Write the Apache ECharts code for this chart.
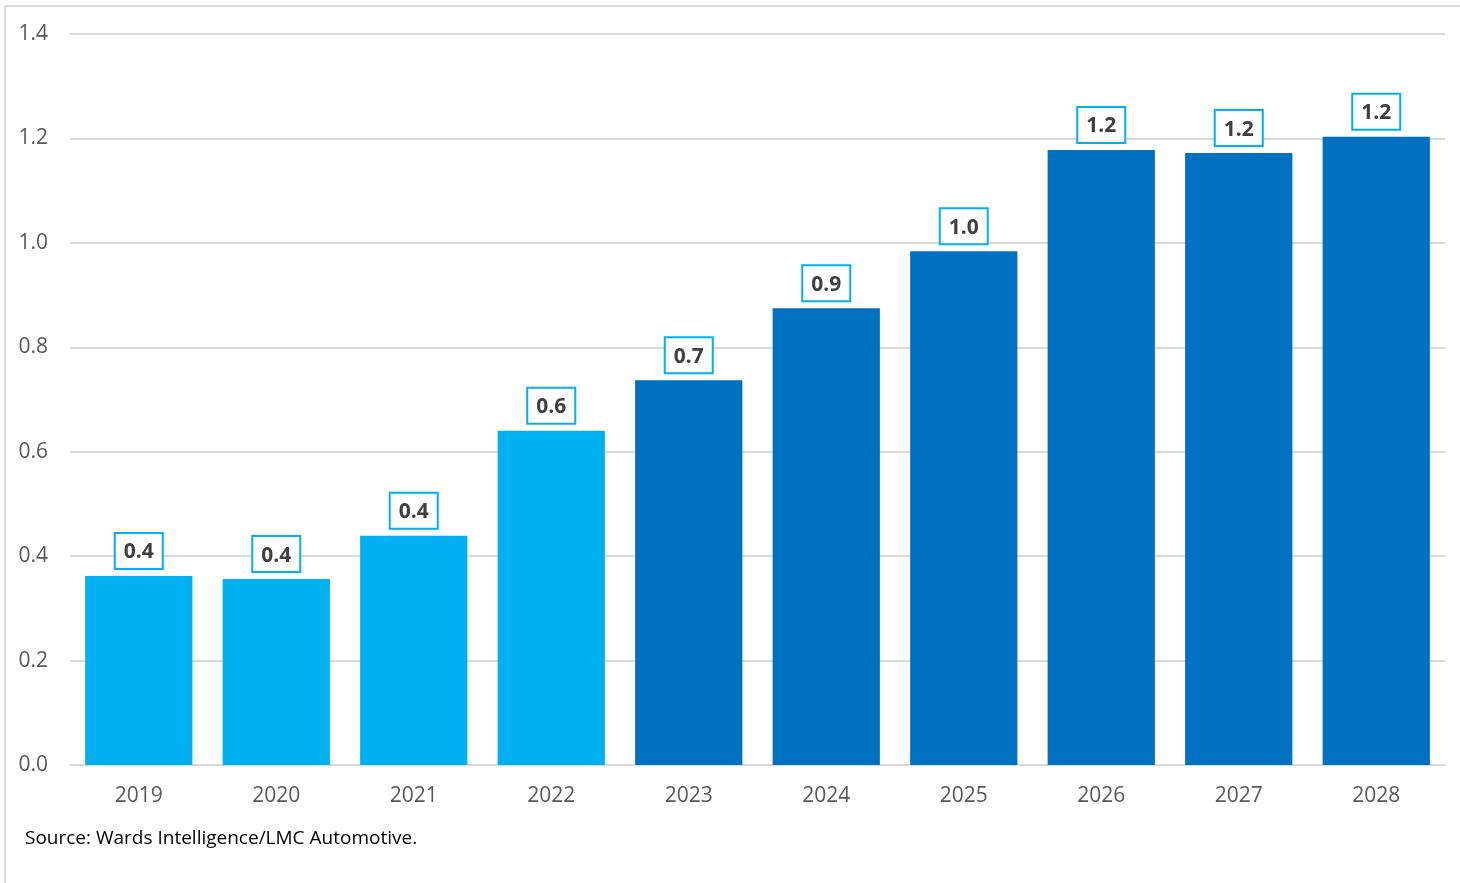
<!DOCTYPE html>
<html>
<head>
<meta charset="utf-8">
<title>Chart</title>
<script src="https://cdn.jsdelivr.net/npm/echarts@6/dist/echarts.min.js"></script>
<style>
  html, body { margin: 0; padding: 0; background: #fff; }
  #main { width: 1460px; height: 883px; }
</style>
</head>
<body>
<div id="main"></div>
<script>
// data
var years = ['2019', '2020', '2021', '2022', '2023', '2024', '2025', '2026', '2027', '2028'];
var values = [0.362, 0.356, 0.439, 0.640, 0.737, 0.875, 0.984, 1.178, 1.172, 1.203];
// first four years are actuals (light blue), the rest forecast (dark blue)
var actualCount = 4;
var yTicks = [0, 0.2, 0.4, 0.6, 0.8, 1.0, 1.2, 1.4];

var chart = echarts.init(document.getElementById('main'));

var barData = values.map(function (v, i) {
  return { value: v, itemStyle: { color: i < actualCount ? '#00B0F0' : '#0070C0' } };
});

var option = {
  animation: false,
  grid: { left: 70, right: 15, top: 34, bottom: 118, outerBoundsMode: 'none' },
  xAxis: {
    type: 'category',
    data: years,
    axisLine: { lineStyle: { color: '#D9D9D9', width: 2 } },
    axisTick: { show: false },
    axisLabel: { color: '#595959', fontSize: 21, margin: 21, fontFamily: 'Open Sans' }
  },
  yAxis: {
    type: 'value',
    min: yTicks[0],
    max: yTicks[yTicks.length - 1],
    interval: 0.2,
    axisLine: { show: false },
    axisTick: { show: false },
    splitLine: { lineStyle: { color: '#D9D9D9', width: 2 } },
    axisLabel: {
      color: '#595959', fontSize: 21, margin: 22, fontFamily: 'Open Sans',
      formatter: function (v) { return v.toFixed(1); }
    }
  },
  series: [{
    type: 'bar',
    data: barData,
    barCategoryGap: '22%',
    label: {
      show: true,
      position: 'top',
      distance: 8,
      color: '#404040',
      fontWeight: 'bold',
      fontSize: 21,
      fontFamily: 'Open Sans',
      backgroundColor: '#fff',
      borderColor: '#00B0F0',
      borderWidth: 2,
      padding: [8, 8, 5, 8],
      formatter: function (p) { return p.value.toFixed(1); }
    }
  }],
  graphic: [
    { type: 'line', shape: { x1: 5, y1: 6, x2: 1460, y2: 6 }, style: { stroke: '#D9D9D9', lineWidth: 2 } },
    { type: 'line', shape: { x1: 5, y1: 6, x2: 5, y2: 883 }, style: { stroke: '#D9D9D9', lineWidth: 2 } },
    {
      type: 'text', left: 25, top: 829,
      style: { text: 'Source: Wards Intelligence/LMC Automotive.', fill: '#000', fontSize: 19, fontFamily: 'Open Sans' }
    }
  ]
};

chart.setOption(option);
</script>
</body>
</html>
